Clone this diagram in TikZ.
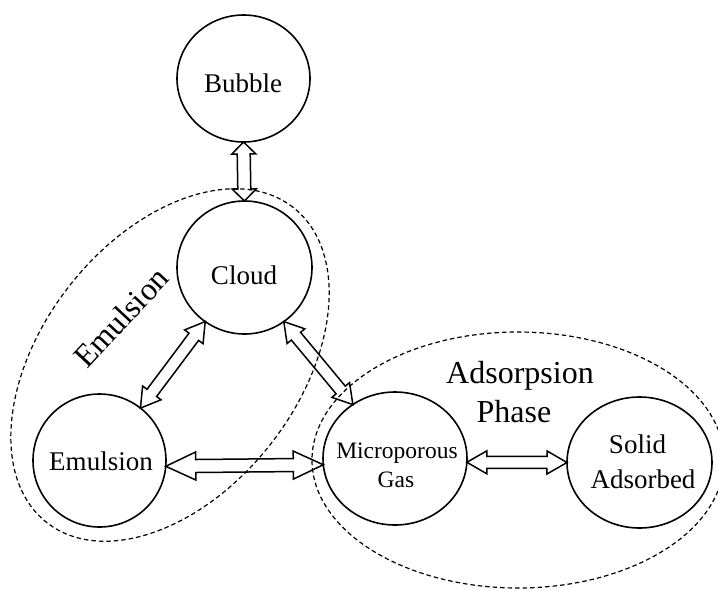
\documentclass[tikz,border=0pt]{standalone}
\usepackage{fontspec}
\setmainfont{Liberation Serif}
\usetikzlibrary{shapes.geometric,calc}
% hollow double-headed block arrow between two named points
% #1,#2 tips; #3 head length; #4 head half-width; #5 shaft half-width
\newcommand\hollowarrow[5]{%
  \draw[hollow]
    (#1)
    -- ($(#1)!#3!(#2)!#4!90:(#2)$)
    -- ($(#1)!#3!(#2)!#5!90:(#2)$)
    -- ($(#2)!#3!(#1)!#5!-90:(#1)$)
    -- ($(#2)!#3!(#1)!#4!-90:(#1)$)
    -- (#2)
    -- ($(#2)!#3!(#1)!#4!90:(#1)$)
    -- ($(#2)!#3!(#1)!#5!90:(#1)$)
    -- ($(#1)!#3!(#2)!#5!-90:(#2)$)
    -- ($(#1)!#3!(#2)!#4!-90:(#2)$)
    -- cycle;}
\begin{document}
\begin{tikzpicture}[x=1pt,y=-1pt,
  ball/.style={ellipse,draw,line width=1.6pt,inner sep=0pt,outer sep=0pt},
  phasegroup/.style={ellipse,draw,line width=1.2pt,dash pattern=on 4.5pt off 3pt,inner sep=0pt,outer sep=0pt},
  hollow/.style={draw,line width=1.5pt,line join=miter},
  txt/.style={font=\fontsize{27}{30}\selectfont,inner sep=0pt},
  smalltxt/.style={font=\fontsize{23.5}{27}\selectfont,inner sep=0pt},
  bigtxt/.style={font=\fontsize{32}{36}\selectfont,inner sep=0pt}]
\useasboundingbox (0,0) rectangle (718,590);
\clip (0,0) rectangle (718,590);

% circles
\node[ball, minimum width=133pt, minimum height=127pt] (bubble) at (243.5,78.5) {};
\node[ball, minimum width=135pt, minimum height=133pt] (cloud) at (244.5,267.5) {};
\node[ball, minimum width=133pt, minimum height=133pt] (emul) at (99.5,460.5) {};
\node[ball, minimum width=144pt, minimum height=133pt] (micro) at (395,458.5) {};
\node[ball, minimum width=145pt, minimum height=131pt] (solid) at (639.5,462.5) {};

% dashed groups
\node[phasegroup, minimum width=400pt, minimum height=256pt, rotate=52] (emulgroup) at (170,365) {};
\node[phasegroup, minimum width=412pt, minimum height=256pt] (adsgroup) at (518,460) {};

% texts
\node[txt, anchor=base] (tbubble) at (243,92) {Bubble};
\node[txt, anchor=base] (tcloud) at (244,284) {Cloud};
\node[txt, anchor=base] (temul) at (101,470) {Emulsion};
\node[smalltxt, anchor=base] (tmicroa) at (397,458) {Microporous};
\node[smalltxt, anchor=base] (tmicrob) at (396,487) {Gas};
\node[txt, anchor=base] (tsolida) at (637.5,453) {Solid};
\node[txt, anchor=base] (tsolidb) at (643,488) {Adsorbed};
\node[bigtxt, anchor=base] (tadsa) at (520,383) {Adsorpsion};
\node[bigtxt, anchor=base] (tadsb) at (514,422) {Phase};
\node[bigtxt, anchor=base, rotate=47] (tgroup) at (129,325) {Emulsion};

% arrows
\hollowarrow{bubble.south}{cloud.north}{12pt}{12pt}{6.5pt}
\hollowarrow{cloud.-126.6}{emul.52.4}{19pt}{11.5pt}{6pt}
\hollowarrow{cloud.-54.1}{micro.128.3}{19pt}{11.5pt}{6pt}
\hollowarrow{emul.-5}{micro.185}{30pt}{14pt}{6.5pt}
\hollowarrow{micro.-3}{solid.180}{20pt}{11.5pt}{6pt}
\end{tikzpicture}
\end{document}
